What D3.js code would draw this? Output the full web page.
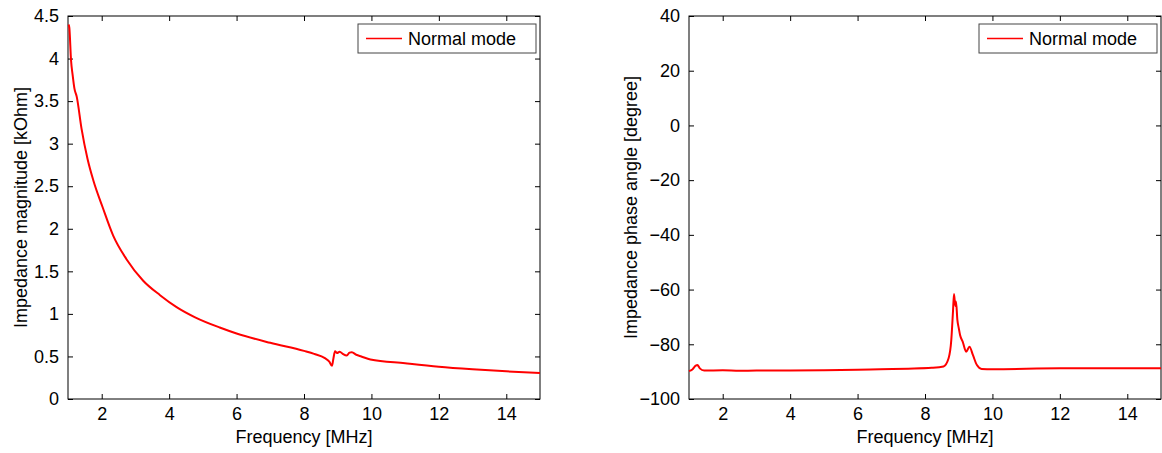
<!DOCTYPE html>
<html>
<head>
<meta charset="utf-8">
<script src="https://cdn.jsdelivr.net/npm/d3@7/dist/d3.min.js"></script>
<style>
  html, body { margin: 0; padding: 0; background: #fff; }
  svg { display: block; font-family: "Liberation Sans", Arial, Helvetica, sans-serif; }
</style>
</head>
<body>
<svg id="fig" width="1162" height="453"></svg>
<script>
// Impedance of the coil in normal mode, measured 1–15 MHz
const freqMag = [1.02, 1.04, 1.09, 1.14, 1.19, 1.26, 1.4, 1.58, 1.75, 2.03, 2.34, 2.74, 3.23, 3.73,
  4.22, 4.77, 5.5, 6, 7, 8, 8.3, 8.62, 8.75, 8.83, 8.87, 8.92, 8.98, 9.06, 9.15, 9.27, 9.35, 9.42,
  9.55, 9.7, 9.97, 11, 12, 13, 14, 15];
const magnitude = [4.40, 4.36, 3.98, 3.80, 3.65, 3.55, 3.18, 2.82, 2.57, 2.25, 1.92, 1.64, 1.39, 1.22,
  1.08, 0.96, 0.84, 0.77, 0.66, 0.565, 0.53, 0.48, 0.44, 0.39, 0.47, 0.56, 0.54, 0.556, 0.53, 0.51, 0.545, 0.55,
  0.52, 0.50, 0.465, 0.42, 0.38, 0.35, 0.325, 0.305];

const freqPhase = [1.0, 1.1, 1.2, 1.25, 1.32, 1.45, 2, 2.5, 3, 4, 5, 6, 6.67, 7.5, 8.2, 8.55, 8.7, 8.78,
  8.83, 8.86, 8.9, 8.92, 8.96, 9.0, 9.04, 9.12, 9.22, 9.32, 9.42, 9.54, 9.68, 10, 12, 15];
const phase = [-89.8, -89.2, -87.8, -87.6, -88.8, -89.6, -89.5, -89.7, -89.6, -89.6, -89.5, -89.3, -89.1,
  -88.9, -88.6, -88.1, -85.1, -78.4, -68, -61.6, -66, -64.4, -71.1, -74, -76.6, -79.1, -82.7, -80.9,
  -83.9, -87.6, -89.0, -89.1, -88.8, -88.8];

const xTicks = [2, 4, 6, 8, 10, 12, 14];
const magTicks = [0, 0.5, 1, 1.5, 2, 2.5, 3, 3.5, 4, 4.5];
const phaseTicks = [-100, -80, -60, -40, -20, 0, 20, 40];
const legendLabel = "Normal mode";

const svg = d3.select("#fig");
const FONT = 18;

function panel(opt) {
  const { left, right, top, bottom } = opt.box;
  const x = d3.scaleLinear().domain([1, 15]).range([left, right]);
  const y = d3.scaleLinear().domain(opt.yDomain).range([bottom, top]);
  const g = svg.append("g");
  const tick = 5;

  // axis frame
  g.append("rect").attr("x", left).attr("y", top)
    .attr("width", right - left).attr("height", bottom - top)
    .attr("fill", "none").attr("stroke", "#000").attr("stroke-width", 1);

  // inward ticks on all four sides
  const xb = d3.axisBottom(x).tickValues(xTicks).tickSizeInner(-tick).tickSizeOuter(0).tickPadding(8);
  const xt = d3.axisTop(x).tickValues(xTicks).tickSizeInner(-tick).tickSizeOuter(0).tickFormat("");
  const yl = d3.axisLeft(y).tickValues(opt.yTicks).tickSizeInner(-tick).tickSizeOuter(0).tickPadding(9)
    .tickFormat(d3.format(opt.yFormat));
  const yr = d3.axisRight(y).tickValues(opt.yTicks).tickSizeInner(-tick).tickSizeOuter(0).tickFormat("");

  const ax = [
    g.append("g").attr("transform", `translate(0,${bottom})`).call(xb),
    g.append("g").attr("transform", `translate(0,${top})`).call(xt),
    g.append("g").attr("transform", `translate(${left},0)`).call(yl),
    g.append("g").attr("transform", `translate(${right},0)`).call(yr)
  ];
  ax.forEach(a => {
    a.select(".domain").remove();
    a.selectAll("text").attr("fill", "#000").attr("font-size", FONT)
      .attr("font-family", "'Liberation Sans', Arial, sans-serif");
  });

  // curve
  const pts = opt.xs.map((f, i) => [f, opt.ys[i]]);
  g.append("path").datum(pts)
    .attr("fill", "none").attr("stroke", "#ff0000").attr("stroke-width", 2)
    .attr("stroke-linejoin", "round")
    .attr("d", d3.line().curve(d3.curveMonotoneX).x(d => x(d[0])).y(d => y(d[1])));

  // axis labels
  g.append("text").attr("x", (left + right) / 2).attr("y", bottom + 44)
    .attr("text-anchor", "middle").attr("font-size", FONT).text("Frequency [MHz]");
  g.append("text")
    .attr("transform", `translate(${opt.yLabelX},${(top + bottom) / 2}) rotate(-90)`)
    .attr("text-anchor", "middle").attr("font-size", FONT).text(opt.yLabel);

  // legend
  const lw = 178, lh = 29;
  const lx = right - lw - 4, ly = top + 8;
  g.append("rect").attr("x", lx).attr("y", ly).attr("width", lw).attr("height", lh)
    .attr("fill", "#fff").attr("stroke", "#444").attr("stroke-width", 1);
  g.append("line").attr("x1", lx + 8).attr("x2", lx + 44)
    .attr("y1", ly + lh / 2).attr("y2", ly + lh / 2)
    .attr("stroke", "#ff0000").attr("stroke-width", 1.5);
  g.append("text").attr("x", lx + 50).attr("y", ly + lh / 2 + 6.5)
    .attr("font-size", FONT).text(legendLabel);
}

panel({
  box: { left: 68, right: 540, top: 16, bottom: 399 },
  yDomain: [0, 4.5], yTicks: magTicks, yFormat: "",
  xs: freqMag, ys: magnitude,
  yLabel: "Impedance magnitude [kOhm]", yLabelX: 27
});

panel({
  box: { left: 689, right: 1161, top: 16, bottom: 399 },
  yDomain: [-100, 40], yTicks: phaseTicks, yFormat: "d",
  xs: freqPhase, ys: phase,
  yLabel: "Impedance phase angle [degree]", yLabelX: 637
});
</script>
</body>
</html>
